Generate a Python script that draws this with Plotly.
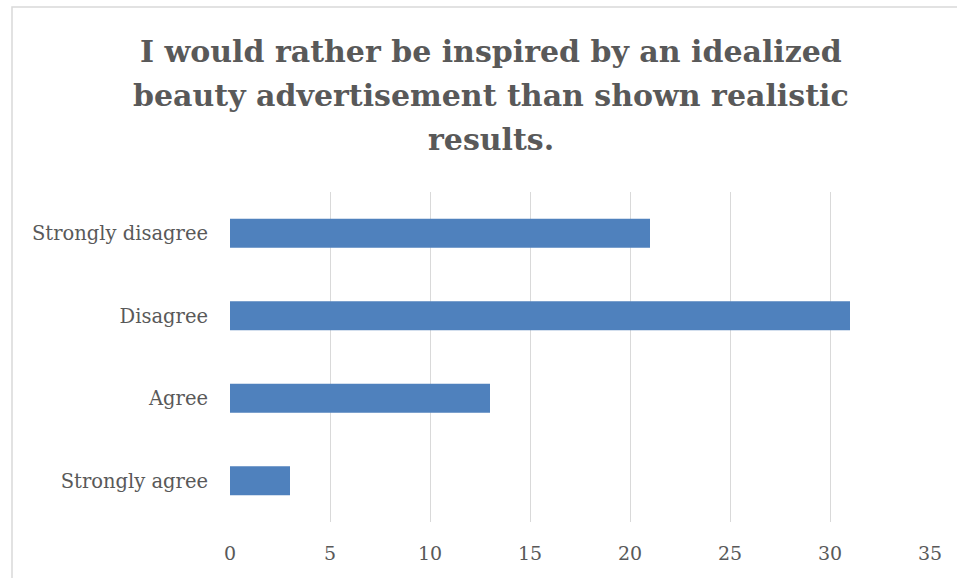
import plotly.graph_objects as go

categories = ["Strongly agree", "Agree", "Disagree", "Strongly disagree"]
counts = [3, 13, 31, 21]
tick_vals = [0, 5, 10, 15, 20, 25, 30, 35]

title_lines = ["I would rather be inspired by an idealized",
               "beauty advertisement than shown realistic",
               "results."]
title_centers_px = [52, 96, 139]

W, H = 957, 578
L, R, T, B = 230, 27, 192, 56
pw, ph = W - L - R, H - T - B

def px_x(p):
    return (p - L) / pw

def px_y(p):
    return (H - B - p) / ph

fig = go.Figure(go.Bar(
    x=counts, y=categories, orientation="h",
    marker=dict(color="#4f81bd", line=dict(width=0)),
    width=0.35,
))

annotations = [dict(
    text=f"<b>{line}</b>", xref="paper", yref="paper",
    x=px_x(491), y=px_y(cy), xanchor="center", yanchor="middle",
    showarrow=False, align="center",
    font=dict(family="DejaVu Serif", size=30, color="#595959"),
) for line, cy in zip(title_lines, title_centers_px)]

fig.update_layout(
    width=W, height=H,
    margin=dict(l=L, r=R, t=T, b=B),
    paper_bgcolor="white", plot_bgcolor="white",
    showlegend=False,
    font=dict(family="DejaVu Serif", color="#595959"),
    xaxis=dict(range=[0, 35], tickvals=tick_vals, showgrid=True,
               gridcolor="#d9d9d9", gridwidth=1.3, zeroline=False,
               showline=False, ticks="", tickfont=dict(size=19),
               ticklabelstandoff=18),
    yaxis=dict(showgrid=False, zeroline=False, showline=False, ticks="",
               tickfont=dict(size=19.5), ticklabelstandoff=21),
    annotations=annotations,
    shapes=[dict(
        type="rect", xref="paper", yref="paper",
        x0=px_x(12), x1=px_x(1010), y0=px_y(620), y1=px_y(7),
        line=dict(color="#d9d9d9", width=1.5), layer="below",
    )],
)

fig.write_html("out.html")
